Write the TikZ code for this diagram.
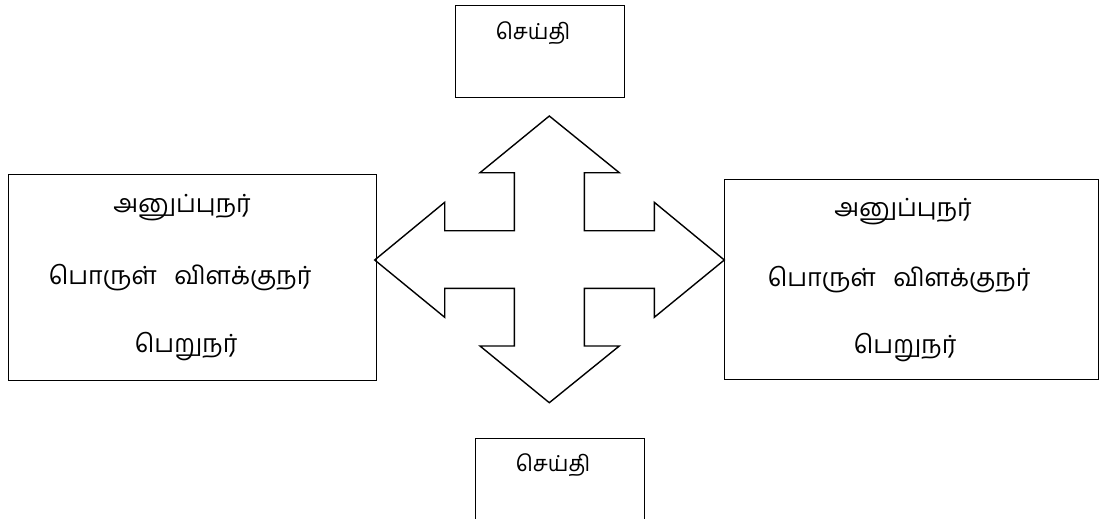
\documentclass[tikz,border=0pt]{standalone}
\usepackage{fontspec}
\newfontfamily\tamil[Script=Tamil]{Hind Madurai}
\begin{document}
\begin{tikzpicture}[x=1pt,y=-1pt,line width=1.4pt,
  box/.style={draw=black,rectangle,inner sep=0pt,anchor=north west},
  tlabel/.style={font=\tamil\fontsize{25}{30}\selectfont,inner sep=0pt,anchor=center},
  slabel/.style={font=\tamil\fontsize{22}{26}\selectfont,inner sep=0pt,anchor=center}]
\useasboundingbox (0,0) rectangle (1106,519);
\clip (0,0) rectangle (1106,519);
% boxes
\node[box,minimum width=368pt,minimum height=206pt] (left) at (7.5,173.5) {};
\node[box,minimum width=374pt,minimum height=200pt] (right) at (723.5,178.5) {};
\node[box,minimum width=169pt,minimum height=92pt] (top) at (455,5) {};
\node[box,minimum width=169pt,minimum height=120pt] (bottom) at (475,438) {};
% texts
\node[tlabel] (l1) at (182,208) {அனுப்புநர்};
\node[tlabel] (l2) at (180,278) {பொருள்\hspace{0.7em}விளக்குநர்};
\node[tlabel] (l3) at (186,347) {பெறுநர்};
\node[tlabel] (r1) at (903,212) {அனுப்புநர்};
\node[tlabel] (r2) at (899,280) {பொருள்\hspace{0.7em}விளக்குநர்};
\node[tlabel] (r3) at (905,348) {பெறுநர்};
\node[slabel] (t1) at (533,33) {செய்தி};
\node[slabel] (b1) at (553,465) {செய்தி};
% four-way arrow
\draw[line join=miter] (549.3,116) -- (619.3,172.7) -- (584.3,172.7) -- (584.3,230.7)
  -- (654.3,230.7) -- (654.3,202.3) -- (724.3,260) -- (654.3,317.3) -- (654.3,288.3)
  -- (584.3,288.3) -- (584.3,346) -- (619.3,346) -- (549.3,402.7) -- (480,346)
  -- (514.3,346) -- (514.3,288.3) -- (444.7,288.3) -- (444.7,317.3) -- (374.7,260)
  -- (444.7,202.3) -- (444.7,230.7) -- (514.3,230.7) -- (514.3,172.7) -- (480,172.7) -- cycle;
\end{tikzpicture}
\end{document}
